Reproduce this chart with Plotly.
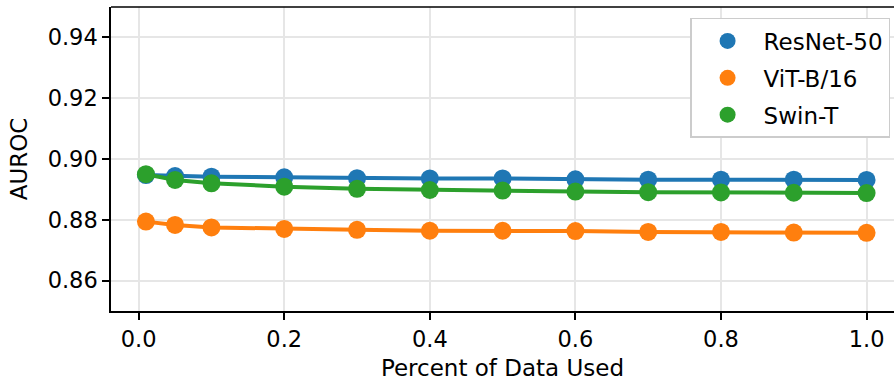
import plotly.graph_objects as go

pct = [0.01, 0.05, 0.1, 0.2, 0.3, 0.4, 0.5, 0.6, 0.7, 0.8, 0.9, 1.0]
resnet50 = [0.8947, 0.8944, 0.8942, 0.8940, 0.8937, 0.8936, 0.8936, 0.8933, 0.8932, 0.8932, 0.8932, 0.8931]
vit_b16 = [0.8794, 0.8783, 0.8775, 0.8770, 0.8767, 0.8764, 0.8764, 0.8763, 0.8760, 0.8760, 0.8758, 0.8757]
swin_t = [0.8950, 0.8931, 0.8920, 0.8909, 0.8902, 0.8898, 0.8896, 0.8893, 0.8891, 0.8890, 0.8889, 0.8888]

names = ["ResNet-50", "ViT-B/16", "Swin-T"]
series = [resnet50, vit_b16, swin_t]
colors = ["#1f77b4", "#ff7f0e", "#2ca02c"]

FONT = "DejaVu Sans"
fig = go.Figure()
for name, vals, c in zip(names, series, colors):
    fig.add_trace(go.Scatter(
        x=pct, y=vals, mode="lines+markers", name=name,
        line=dict(color=c, width=4),
        marker=dict(color=c, size=18),
        showlegend=False,
    ))
for name, c in zip(names, colors):
    fig.add_trace(go.Scatter(
        x=[None], y=[None], mode="markers", name=name,
        marker=dict(color=c, size=22), legendgroup=name,
    ))

fig.update_layout(
    width=894, height=381,
    margin=dict(l=111, r=0, t=7, b=70),
    plot_bgcolor="white", paper_bgcolor="white",
    font=dict(family=FONT, size=22.5, color="black"),
    legend=dict(
        x=0.995, y=0.964, xanchor="right", yanchor="top",
        bgcolor="white", bordercolor="#cccccc", borderwidth=1.5,
        font=dict(family=FONT, size=23, color="black"),
        itemwidth=62, tracegroupgap=4,
    ),
    xaxis=dict(
        range=[-0.038, 1.0377],
        tickmode="array", tickvals=[0, 0.2, 0.4, 0.6, 0.8, 1.0],
        ticktext=["0.0", "0.2", "0.4", "0.6", "0.8", "1.0"],
        showgrid=True, gridcolor="#e6e6e6", gridwidth=1.5,
        showline=True, linecolor="black", linewidth=1.5,
        ticks="outside", ticklen=7, tickwidth=1.5, tickcolor="black",
        zeroline=False,
        title=dict(text="Percent of Data Used", standoff=9, font=dict(size=23)),
    ),
    yaxis=dict(
        range=[0.85, 0.95],
        tickmode="array", tickvals=[0.86, 0.88, 0.90, 0.92, 0.94],
        ticktext=["0.86", "0.88", "0.90", "0.92", "0.94"],
        showgrid=True, gridcolor="#e6e6e6", gridwidth=1.5,
        showline=True, linecolor="black", linewidth=1.5,
        ticks="outside", ticklen=7, tickwidth=1.5, tickcolor="black",
        zeroline=False,
        title=dict(text="AUROC", standoff=14, font=dict(size=23)),
    ),
    shapes=[dict(type="line", xref="paper", yref="paper", x0=0, x1=1, y0=1, y1=1,
                 line=dict(color="black", width=1.5))],
)

fig.write_html("out.html", config={"displayModeBar": False},
               post_script="document.body.style.margin='0';document.body.style.overflow='hidden';")
